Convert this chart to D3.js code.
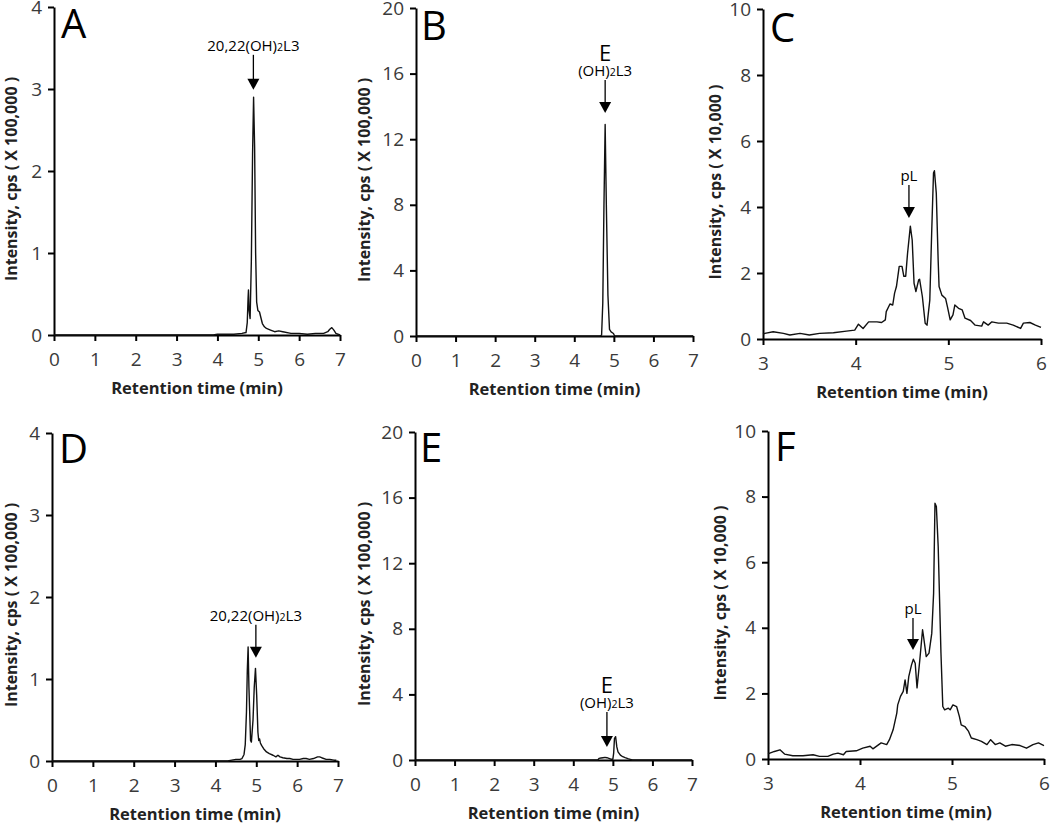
<!DOCTYPE html>
<html><head><meta charset="utf-8">
<script src="https://cdn.jsdelivr.net/npm/d3@7"></script>
<style>
html,body{margin:0;padding:0;background:#fff;}
svg{display:block;}
</style></head>
<body>
<svg id="chart" width="1050" height="824"></svg>
<script>
// ---------------- DATA ----------------
const panelLetters = ["A","B","C","D","E","F"];
const xTicksWide = [0,1,2,3,4,5,6,7];
const xTicksNarrow = [3,4,5,6];
const yTicksA = [0,1,2,3,4];
const yTicksB = [0,4,8,12,16,20];
const yTicksC = [0,2,4,6,8,10];
const yTitle100k = "Intensity, cps ( X 100,000 )";
const yTitle10k = "Intensity, cps ( X 10,000 )";
const xTitle = "Retention time (min)";

const A_time = [0, 3.9, 4.0, 4.2, 4.4, 4.6, 4.7, 4.73, 4.75, 4.76, 4.775, 4.80, 4.83, 4.86, 4.885, 4.91, 4.935, 4.96, 4.99, 5.03, 5.06, 5.10, 5.15, 5.2, 5.3, 5.4, 5.5, 5.6, 5.8, 6.0, 6.2, 6.4, 6.6, 6.7, 6.75, 6.8, 6.85, 6.9, 7.0];
const A_int  = [0, 0, 0.01, 0.01, 0.01, 0.02, 0.03, 0.15, 0.45, 0.55, 0.3, 0.2, 0.9, 2.2, 2.9, 2.3, 1.0, 0.4, 0.3, 0.28, 0.22, 0.14, 0.1, 0.08, 0.06, 0.04, 0.05, 0.04, 0.02, 0.02, 0.01, 0.02, 0.02, 0.04, 0.07, 0.09, 0.06, 0.02, 0.0];

const B_time = [0, 4.65, 4.69, 4.72, 4.75, 4.78, 4.81, 4.85, 4.89, 4.93, 4.99, 5.02, 7.0];
const B_int  = [0, 0, 0.05, 2, 8, 12.9, 8, 2.5, 0.4, 0.25, 0.15, 0, 0];

const C_time = [3.0, 3.02, 3.11, 3.22, 3.29, 3.4, 3.5, 3.61, 3.76, 3.9, 3.99, 4.03, 4.08, 4.14, 4.23, 4.28, 4.32, 4.33, 4.37, 4.4, 4.42, 4.44, 4.47, 4.5, 4.52, 4.54, 4.56, 4.59, 4.61, 4.63, 4.65, 4.68, 4.69, 4.72, 4.75, 4.77, 4.8, 4.82, 4.84, 4.85, 4.87, 4.89, 4.9, 4.93, 4.97, 4.99, 5.02, 5.05, 5.07, 5.11, 5.15, 5.18, 5.24, 5.29, 5.36, 5.38, 5.43, 5.47, 5.54, 5.63, 5.7, 5.78, 5.81, 5.88, 5.94, 6.0];
const C_int  = [0.15, 0.17, 0.22, 0.17, 0.12, 0.17, 0.12, 0.17, 0.19, 0.24, 0.27, 0.45, 0.32, 0.52, 0.52, 0.50, 0.58, 0.83, 1.06, 1.03, 1.39, 1.59, 2.2, 2.2, 1.9, 1.9, 2.6, 3.42, 3.0, 1.69, 1.44, 1.79, 1.81, 1.28, 0.48, 0.42, 1.18, 3.2, 5.03, 5.1, 4.42, 2.4, 1.59, 1.33, 1.23, 0.98, 0.58, 0.73, 1.03, 0.93, 0.88, 0.63, 0.56, 0.42, 0.39, 0.52, 0.42, 0.52, 0.48, 0.48, 0.42, 0.32, 0.48, 0.5, 0.42, 0.35];

const D_time = [0, 4.3, 4.4, 4.5, 4.6, 4.65, 4.7, 4.73, 4.76, 4.78, 4.80, 4.82, 4.86, 4.88, 4.92, 4.95, 4.98, 5.01, 5.04, 5.06, 5.08, 5.1, 5.13, 5.18, 5.25, 5.32, 5.41, 5.48, 5.53, 5.58, 5.65, 5.75, 5.82, 5.9, 6.0, 6.06, 6.15, 6.22, 6.3, 6.4, 6.5, 6.55, 6.6, 6.71, 6.8, 6.9, 6.96];
const D_int  = [0, 0, 0.01, 0.02, 0.02, 0.03, 0.08, 0.2, 0.6, 1.1, 1.39, 0.9, 0.25, 0.23, 0.5, 0.9, 1.13, 0.8, 0.35, 0.25, 0.27, 0.22, 0.19, 0.15, 0.11, 0.09, 0.07, 0.05, 0.07, 0.05, 0.04, 0.03, 0.03, 0.02, 0.02, 0.02, 0.03, 0.03, 0.02, 0.03, 0.05, 0.05, 0.04, 0.02, 0.02, 0.01, 0.01];

const E_time = [0, 4.62, 4.65, 4.7, 4.75, 4.8, 4.85, 4.9, 4.95, 5.0, 5.02, 5.04, 5.07, 5.1, 5.13, 5.19, 5.25, 5.31, 5.38, 5.44, 5.5, 7.0];
const E_int  = [0, 0, 0.1, 0.12, 0.14, 0.16, 0.14, 0.1, 0.05, 0.05, 0.4, 1.3, 1.42, 0.8, 0.5, 0.3, 0.2, 0.14, 0.08, 0.04, 0, 0];

const F_time = [3.0, 3.02, 3.07, 3.13, 3.18, 3.27, 3.38, 3.49, 3.56, 3.65, 3.71, 3.76, 3.82, 3.85, 3.96, 4.03, 4.11, 4.14, 4.23, 4.29, 4.32, 4.36, 4.4, 4.41, 4.44, 4.47, 4.49, 4.51, 4.53, 4.56, 4.58, 4.6, 4.62, 4.65, 4.68, 4.69, 4.72, 4.75, 4.78, 4.8, 4.815, 4.83, 4.85, 4.88, 4.9, 4.92, 4.96, 4.98, 5.01, 5.05, 5.08, 5.1, 5.14, 5.18, 5.21, 5.27, 5.32, 5.38, 5.42, 5.47, 5.52, 5.58, 5.65, 5.74, 5.81, 5.88, 5.94, 6.0];
const F_int  = [0.16, 0.18, 0.23, 0.28, 0.15, 0.1, 0.1, 0.13, 0.08, 0.08, 0.15, 0.18, 0.13, 0.23, 0.25, 0.33, 0.39, 0.31, 0.49, 0.44, 0.59, 0.89, 1.4, 1.65, 1.91, 2.06, 2.41, 2.0, 2.51, 2.87, 3.04, 2.92, 2.17, 3.02, 3.94, 3.75, 3.12, 3.23, 3.83, 5.05, 7.8, 7.7, 6.47, 3.23, 1.6, 1.5, 1.55, 1.5, 1.65, 1.6, 1.3, 1.04, 0.99, 0.84, 0.64, 0.59, 0.54, 0.44, 0.59, 0.44, 0.49, 0.39, 0.44, 0.41, 0.33, 0.44, 0.49, 0.41];

// annotation labels: [main, subscript, rest] ; arrow tip in data coords
const annotLabels = {
  A: {top: null, text: ["20,22(OH)", "2", "L3"], tip: [4.88, 2.99]},
  B: {top: "E", text: ["(OH)", "2", "L3"], tip: [4.78, 13.6]},
  C: {top: null, text: ["pL"], tip: [4.575, 3.67]},
  D: {top: null, text: ["20,22(OH)", "2", "L3"], tip: [4.99, 1.26]},
  E: {top: "E", text: ["(OH)", "2", "L3"], tip: [4.85, 0.8]},
  F: {top: null, text: ["pL"], tip: [4.576, 3.32]}
};

// ---------------- LAYOUT ----------------
const panels = [
  {id:"A", t:A_time, v:A_int, xd:[0,7], xt:xTicksWide, yd:[0,4], yt:yTicksA, x0:54, x1:340, y0:335, y1:7, ytitle:yTitle100k, ytx:17, letterX:61, letterY:38, arrowLen:35},
  {id:"B", t:B_time, v:B_int, xd:[0,7], xt:xTicksWide, yd:[0,20], yt:yTicksB, x0:416, x1:693, y0:336, y1:8, ytitle:yTitle100k, ytx:370, letterX:421, letterY:40, arrowLen:33},
  {id:"C", t:C_time, v:C_int, xd:[3,6], xt:xTicksNarrow, yd:[0,10], yt:yTicksC, x0:763, x1:1041, y0:339, y1:9, ytitle:yTitle10k, ytx:721, letterX:770, letterY:42, arrowLen:33},
  {id:"D", t:D_time, v:D_int, xd:[0,7], xt:xTicksWide, yd:[0,4], yt:yTicksA, x0:52, x1:338, y0:761, y1:433, ytitle:yTitle100k, ytx:17, letterX:59, letterY:463, arrowLen:33},
  {id:"E", t:E_time, v:E_int, xd:[0,7], xt:xTicksWide, yd:[0,20], yt:yTicksB, x0:415, x1:692, y0:760, y1:432, ytitle:yTitle100k, ytx:370, letterX:420, letterY:462, arrowLen:35},
  {id:"F", t:F_time, v:F_int, xd:[3,6], xt:xTicksNarrow, yd:[0,10], yt:yTicksC, x0:768, x1:1044, y0:759, y1:431, ytitle:yTitle10k, ytx:726, letterX:775, letterY:461, arrowLen:32}
];

const svg = d3.select("#chart");
const FONT = "'Open Sans', 'DejaVu Sans', sans-serif";

panels.forEach((p, i) => {
  const x = d3.scaleLinear().domain(p.xd).range([p.x0, p.x1]);
  const y = d3.scaleLinear().domain(p.yd).range([p.y0, p.y1]);
  const g = svg.append("g");

  // axes
  const xa = g.append("g").attr("transform", `translate(0,${p.y0})`)
    .call(d3.axisBottom(x).tickValues(p.xt).tickFormat(d3.format("d")).tickSize(6).tickSizeOuter(0).tickPadding(12));
  const ya = g.append("g").attr("transform", `translate(${p.x0},0)`)
    .call(d3.axisLeft(y).tickValues(p.yt).tickFormat(d3.format("d")).tickSize(6).tickSizeOuter(0).tickPadding(6));
  [xa, ya].forEach(a => {
    a.select(".domain").attr("stroke", "#000").attr("stroke-width", 2);
    a.selectAll(".tick line").attr("stroke", "#000").attr("stroke-width", 2);
    a.selectAll(".tick text").attr("fill", "#3a3a3a").style("font-family", FONT).style("font-size", "19px");
  });

  // data line
  const pts = p.t.map((t, k) => [t, p.v[k]]);
  g.append("path").datum(pts)
    .attr("fill", "none").attr("stroke", "#111").attr("stroke-width", 1.4).attr("stroke-linejoin", "round")
    .attr("d", d3.line().x(d => x(d[0])).y(d => y(d[1])));

  // titles
  g.append("text").attr("x", (p.x0 + p.x1) / 2).attr("y", p.y0 + 59)
    .attr("text-anchor", "middle").style("font-family", FONT).style("font-size", "16.5px").style("font-weight", "bold")
    .attr("fill", "#222").text(xTitle);
  const yc = (p.y0 + p.y1) / 2 + 8;
  g.append("text").attr("transform", `translate(${p.ytx},${yc}) rotate(-90)`)
    .attr("text-anchor", "middle").style("font-family", FONT).style("font-size", "16px").style("font-weight", "bold")
    .attr("fill", "#222").text(p.ytitle);

  // panel letter
  g.append("text").attr("x", p.letterX).attr("y", p.letterY)
    .style("font-family", FONT).style("font-size", "40px").attr("fill", "#000").text(panelLetters[i]);

  // annotation arrow
  const an = annotLabels[p.id];
  const tx = x(an.tip[0]), ty = y(an.tip[1]);
  const topY = ty - p.arrowLen;
  g.append("line").attr("x1", tx).attr("x2", tx).attr("y1", topY).attr("y2", ty - 9)
    .attr("stroke", "#000").attr("stroke-width", 1.3);
  g.append("path").attr("d", `M${tx - 6},${ty - 11} L${tx + 6},${ty - 11} L${tx},${ty} Z`).attr("fill", "#000");
  const lab = g.append("text").attr("x", tx).attr("y", topY - 4).attr("text-anchor", "middle")
    .style("font-family", FONT).style("font-size", "15px").attr("fill", "#000");
  an.text.forEach((s, k) => {
    const ts = lab.append("tspan").text(s);
    if (an.text.length === 3 && k === 1) ts.style("font-size", "10.5px");
  });
  if (an.top) {
    g.append("text").attr("x", tx).attr("y", topY - 19).attr("text-anchor", "middle")
      .style("font-family", FONT).style("font-size", "22px").attr("fill", "#000").text(an.top);
  }
});
</script>
</body></html>
